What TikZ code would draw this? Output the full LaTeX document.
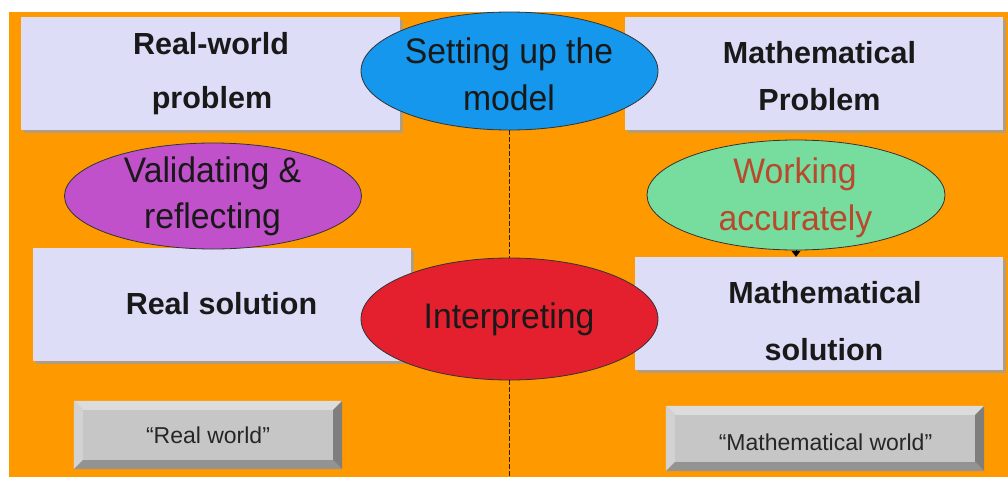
\documentclass[tikz,border=0pt]{standalone}
\usepackage{fontspec}
\setmainfont{Liberation Sans}
\usetikzlibrary{shapes.geometric,shadows,arrows.meta}
\definecolor{bgorange}{HTML}{FF9900}
\definecolor{boxfill}{HTML}{DDDDF8}
\definecolor{eblue}{HTML}{1497EC}
\definecolor{ered}{HTML}{E5202E}
\definecolor{epurple}{HTML}{C150CB}
\definecolor{egreen}{HTML}{77DD9F}
\definecolor{wtext}{HTML}{B8492C}
\definecolor{btnface}{HTML}{C6C6C6}
\definecolor{btntop}{HTML}{DCDCDC}
\definecolor{btnleft}{HTML}{D2D2D2}
\definecolor{btnright}{HTML}{7E7E7E}
\definecolor{btnbottom}{HTML}{939393}
\definecolor{divcol}{HTML}{2A1E08}
\newcommand{\bevelbtn}[2]{%
  \coordinate (#1-onw) at ([shift={(-#2,-#2)}]#1.north west);
  \coordinate (#1-one) at ([shift={(#2,-#2)}]#1.north east);
  \coordinate (#1-osw) at ([shift={(-#2,#2)}]#1.south west);
  \coordinate (#1-ose) at ([shift={(#2,#2)}]#1.south east);
  \fill[btntop] (#1-onw) -- (#1-one) -- (#1.north east) -- (#1.north west) -- cycle;
  \fill[btnleft] (#1-onw) -- (#1.north west) -- (#1.south west) -- (#1-osw) -- cycle;
  \fill[btnright] (#1-one) -- (#1-ose) -- (#1.south east) -- (#1.north east) -- cycle;
  \fill[btnbottom] (#1-osw) -- (#1.south west) -- (#1.south east) -- (#1-ose) -- cycle;
}
\newcommand{\ntext}[1]{\scalebox{0.95}[1]{#1}}
\begin{document}
\begin{tikzpicture}[x=1pt,y=-1pt,
  wbox/.style={rectangle, inner sep=0pt, fill=boxfill, drop shadow={shadow xshift=3pt, shadow yshift=-3pt, fill=gray!75, opacity=0.8}},
  ell/.style={ellipse, inner sep=0pt, draw=black!80, line width=0.8pt},
  btxt/.style={anchor=base, inner sep=0pt, font=\bfseries\fontsize{30.5}{36}\selectfont, text=black!90},
  etxt/.style={anchor=base, inner sep=0pt, font=\fontsize{35.5}{40}\selectfont, text=black!90},
  bface/.style={rectangle, inner sep=0pt, fill=btnface},
  bttxt/.style={anchor=base, inner sep=0pt, font=\fontsize{23}{28}\selectfont, text=black!85},
  divider/.style={draw=divcol, line width=1.8pt, dash pattern=on 4.5pt off 2.5pt},
  tip/.style={-{Triangle[length=6pt,width=9pt]}, line width=0.8pt}
]
\useasboundingbox (0,0) rectangle (1008,477);
\fill[white] (0,0) rectangle (1008,477);
\fill[bgorange] (9,12) rectangle (1008,477);

% boxes
\node[wbox, minimum width=379pt, minimum height=113pt] (rwp) at (210.5,73.5) {};
\node[wbox, minimum width=378pt, minimum height=113pt] (mp) at (814,73.5) {};
\node[wbox, minimum width=378pt, minimum height=113pt] (rs) at (222,304.5) {};
\node[wbox, minimum width=368pt, minimum height=113pt] (ms) at (819,313.5) {};

% divider end
\coordinate (bot) at (509.5,477);

% ellipses
\node[ell, fill=eblue, minimum width=297pt, minimum height=118pt] (setup) at (509.5,71) {};
\node[ell, fill=ered, minimum width=297pt, minimum height=122pt] (interp) at (509.5,319) {};
\node[ell, fill=epurple, minimum width=297pt, minimum height=106pt] (valid) at (213,196) {};
\node[ell, fill=egreen, minimum width=298pt, minimum height=110pt] (work) at (796,195) {};

\draw[divider] (setup.south) -- (interp.north);
\draw[divider] (interp.south) -- (bot);
\draw[tip] (work.south) -- (work.south |- ms.north);

% box texts
\node[btxt] (rwp1) at (211,54) {Real-world};
\node[btxt] (rwp2) at (212,108) {problem};
\node[btxt] (mp1) at (819.5,63) {Mathematical};
\node[btxt] (mp2) at (819.5,110) {Problem};
\node[btxt] (rs1) at (221.5,314) {Real solution};
\node[btxt] (ms1) at (825,303) {Mathematical};
\node[btxt] (ms2) at (824,360) {solution};

% ellipse texts
\node[etxt] (setup1) at (509,63) {\ntext{Setting up the}};
\node[etxt] (setup2) at (509,110) {\ntext{model}};
\node[etxt] (valid1) at (212.5,182) {\ntext{Validating \&}};
\node[etxt] (valid2) at (212.5,228) {\ntext{reflecting}};
\node[etxt, text=wtext] (work1) at (795,183) {\ntext{Working}};
\node[etxt, text=wtext] (work2) at (795.5,230) {\ntext{accurately}};
\node[etxt] (interp1) at (509,328) {\ntext{Interpreting}};

% buttons
\node[bface, minimum width=250pt, minimum height=50pt] (rw) at (208,435) {};
\bevelbtn{rw}{9}
\node[bface, minimum width=300pt, minimum height=47pt] (mw) at (825,438.5) {};
\bevelbtn{mw}{9}
\node[bttxt] (rwt) at (208,443) {“Real world”};
\node[bttxt] (mwt) at (825.5,450) {“Mathematical world”};
\end{tikzpicture}
\end{document}
